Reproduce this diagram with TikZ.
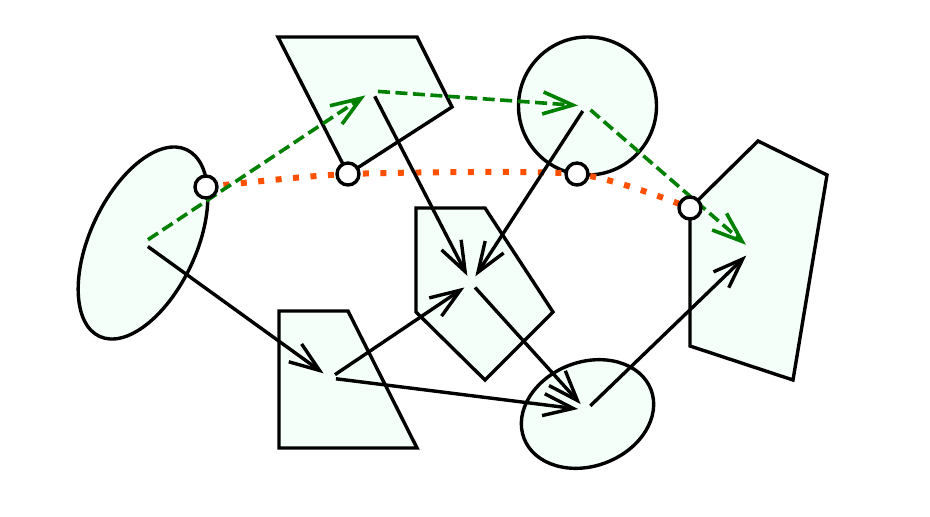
\documentclass[tikz,border=0pt]{standalone}
\usepackage{xcolor}
\usepackage{tikz}
\usetikzlibrary{arrows.meta}
\definecolor{regionfill}{RGB}{244,255,249}
\definecolor{chaingreen}{RGB}{0,128,0}
\definecolor{cutorange}{RGB}{255,80,0}

\begin{document}
\begin{tikzpicture}[
  %% styles
  region/.style={draw=black, fill=regionfill, line width=0.034cm, line join=miter},
  arr/.style={-{Straight Barb[length=3mm,width=2.2mm]}, draw=black,
              line width=0.034cm, shorten <=0.06cm, shorten >=0.08cm},
  chain/.style={arr, draw=chaingreen, line width=0.036cm,
                dash pattern=on 0.12cm off 0.055cm},
  cut/.style={draw=cutorange, line width=0.06cm,
              dash pattern=on 0.06cm off 0.115cm},
  port/.style={circle, draw=black, fill=white, line width=0.034cm,
               minimum size=0.22cm, inner sep=0pt},
]

%% canvas
\useasboundingbox (0,0) rectangle (9.30,5.16);

%%
%% region centres
%%
\coordinate (e1) at (1.43,2.73);   % tilted ellipse, left
\coordinate (t1) at (3.72,4.25);   % upper quadrilateral
\coordinate (c1) at (5.86,4.10);   % circle
\coordinate (p1) at (4.71,2.33);   % middle pentagon
\coordinate (t2) at (3.30,1.38);   % lower trapezoid
\coordinate (e2) at (5.86,1.06);   % small ellipse
\coordinate (q1) at (7.52,2.66);   % right pentagon

%% ------ regions --------------------------------------------------------
\draw[region, rotate around={65:(e1)}] (e1) ellipse [x radius=1.03, y radius=0.53];
\draw[region] (2.78,4.79) -- (4.17,4.79) -- (4.52,4.09) -- (3.48,3.42) -- cycle;
\draw[region] (5.875,4.10) circle (0.69);
\draw[region] (4.16,3.08) -- (4.85,3.08) -- (5.53,2.04) -- (4.85,1.36) -- (4.16,2.04) -- cycle;
\draw[region] (2.79,2.05) -- (3.48,2.05) -- (4.17,0.68) -- (2.79,0.68) -- cycle;
\draw[region, rotate around={21:(5.875,1.02)}] (5.875,1.02) ellipse [x radius=0.68, y radius=0.52];
\draw[region] (7.58,3.75) -- (8.27,3.41) -- (7.93,1.36) -- (6.90,1.70) -- (6.90,3.08) -- cycle;

%% ------ cut line through the ports ------------------------------------
\coordinate (m1) at (2.06,3.29);
\coordinate (m2) at (3.48,3.42);
\coordinate (m3) at (5.77,3.42);
\coordinate (m4) at (6.90,3.08);
\draw[cut] plot[smooth, tension=0.4] coordinates {(m1) (m2) (m3) (m4)};

%% ------ flows ---------------------------------------------------------
\draw[arr] (e1) -- (t2);
\draw[arr] (t2) -- (p1);
\draw[arr] (t2) -- (e2);
\draw[arr] (t1) -- (p1);
\draw[arr] (c1) -- (p1);
\draw[arr] (p1) -- (e2);
\draw[arr] (e2) -- (q1);

%% green chain along the top
\draw[chain] (e1) -- (t1);
\draw[chain] (t1) -- (c1);
\draw[chain] (c1) -- (q1);

%% ports
\node[port] (pa) at (m1) {};
\node[port] (pb) at (m2) {};
\node[port] (pc) at (m3) {};
\node[port] (pd) at (m4) {};

\end{tikzpicture}
\end{document}
